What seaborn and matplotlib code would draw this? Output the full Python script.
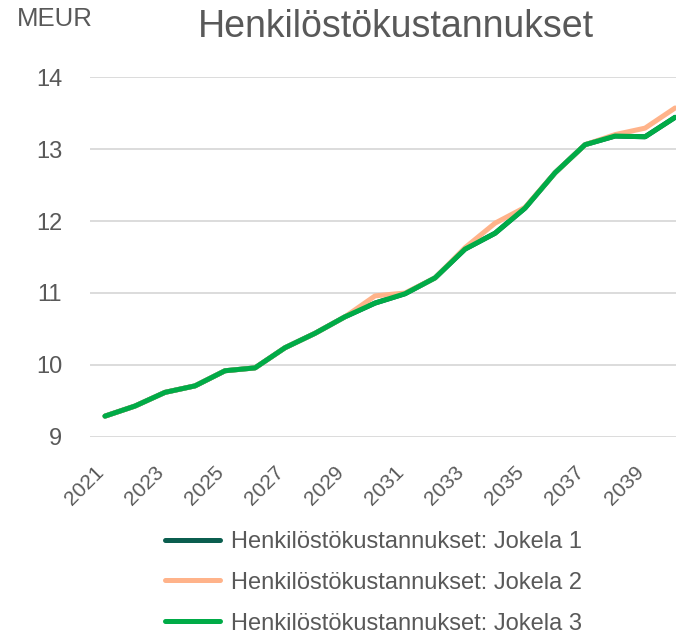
import pandas as pd
import matplotlib
matplotlib.use("Agg")
import matplotlib.pyplot as plt
import seaborn as sns

# Henkilöstökustannukset (MEUR) per scenario
years = list(range(2021, 2041))
jokela_1 = [9.29, 9.43, 9.62, 9.71, 9.92, 9.96, 10.24, 10.44, 10.67, 10.86,
            10.99, 11.21, 11.61, 11.83, 12.18, 12.67, 13.06, 13.18, 13.17, 13.44]
jokela_2 = [9.29, 9.43, 9.62, 9.71, 9.92, 9.96, 10.24, 10.44, 10.67, 10.96,
            11.00, 11.21, 11.63, 11.97, 12.19, 12.67, 13.06, 13.20, 13.29, 13.57]
jokela_3 = [9.29, 9.43, 9.62, 9.71, 9.92, 9.96, 10.24, 10.44, 10.67, 10.86,
            10.99, 11.21, 11.61, 11.83, 12.18, 12.67, 13.06, 13.18, 13.17, 13.44]
series_names = ["Henkilöstökustannukset: Jokela 1",
                "Henkilöstökustannukset: Jokela 2",
                "Henkilöstökustannukset: Jokela 3"]
colors = ["#0B5E4F", "#FFB38A", "#00AB47"]

df = pd.concat([
    pd.DataFrame({"vuosi": years, "arvo": vals, "sarja": name})
    for vals, name in zip([jokela_1, jokela_2, jokela_3], series_names)
])

sns.set_theme(style="white")
plt.rcParams['font.family'] = ['Liberation Sans', 'DejaVu Sans']
text_color = "#595959"

fig = plt.figure(figsize=(6.76, 6.38), dpi=100)
ax = fig.add_axes([90 / 676, 201 / 638, 586 / 676, 360 / 638])

sns.lineplot(data=df, x="vuosi", y="arvo", hue="sarja", palette=colors,
             linewidth=3.6, ax=ax, legend=True)

ax.set_xlim(2020.5, 2040.03)
ax.set_ylim(9, 14)
ax.set_yticks([9, 10, 11, 12, 13, 14])
ax.set_xticks(years[::2])
ax.set_xticklabels([str(y) for y in years[::2]], rotation=45,
                   ha="right", va="baseline", rotation_mode="anchor")
ax.tick_params(axis="both", length=0, colors=text_color)
ax.tick_params(axis="y", pad=20, labelsize=17)
ax.tick_params(axis="x", pad=26, labelsize=15)
ax.set_xlabel("")
ax.set_ylabel("")
ax.yaxis.grid(True, color="#D9D9D9", linewidth=1.3)
ax.set_axisbelow(True)
for s in ax.spines.values():
    s.set_visible(False)

fig.text(17 / 676, 1 - 19 / 638, "MEUR", fontsize=18.5, color=text_color,
         ha="left", va="center")
fig.text(396 / 676, 1 - 27 / 638, "Henkilöstökustannukset", fontsize=27,
         color=text_color, ha="center", va="center")

leg = ax.legend(loc="upper left", bbox_to_anchor=(153 / 676, 1 - 519 / 638),
                bbox_transform=fig.transFigure, frameon=False, fontsize=17,
                handlelength=2.33, labelspacing=0.8, handletextpad=0.47,
                borderpad=0)
for t in leg.get_texts():
    t.set_color(text_color)
for h in leg.get_lines():
    h.set_linewidth(3.6)
    h.set_solid_capstyle("round")

fig.savefig("out.png", dpi=100)
